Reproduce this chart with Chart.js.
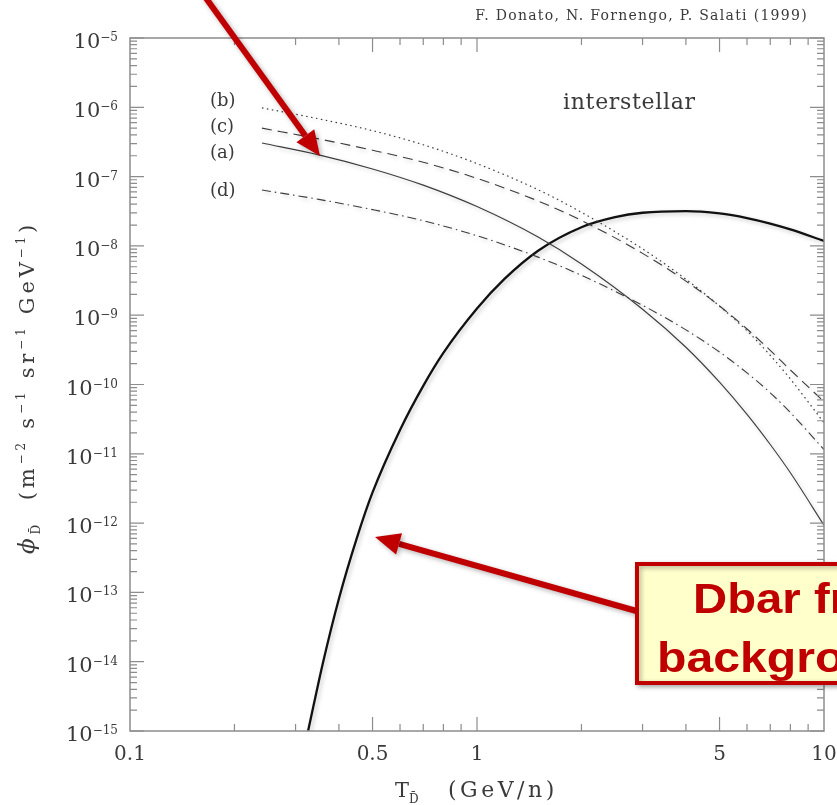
<!DOCTYPE html>
<html>
<head>
<meta charset="utf-8">
<script src="https://cdn.jsdelivr.net/npm/chart.js@4.4.0/dist/chart.umd.min.js"></script>
<style>
html, body { margin:0; padding:0; background:#fff; }
#wrap { width:837px; height:805px; }
</style>
</head>
<body>
<div id="wrap"><canvas id="myChart" width="837" height="805"></canvas></div>
<script>
// kinetic energy per nucleon (GeV/n) where the curves were read
var energy = [0.24, 0.35, 0.5, 0.7, 1, 1.5, 2, 3, 4, 5, 6, 7, 8, 10];
// interstellar Dbar flux, curves (a)..(d)
var fluxA = [3.05e-7, 2.06e-7, 1.29e-7, 7.53e-8, 3.69e-8, 1.34e-8, 5.48e-9, 1.22e-9, 3.45e-10, 1.08e-10, 3.70e-11, 1.36e-11, 5.32e-12, 9.3e-13];
var fluxB = [9.8e-7, 6.82e-7, 4.60e-7, 2.88e-7, 1.54e-7, 6.46e-8, 3.05e-8, 9.06e-9, 3.30e-9, 1.35e-9, 5.96e-10, 2.63e-10, 1.20e-10, 2.80e-11];
var fluxC = [5.0e-7, 3.50e-7, 2.40e-7, 1.61e-7, 9.42e-8, 4.45e-8, 2.33e-8, 7.80e-9, 3.10e-9, 1.36e-9, 6.32e-10, 3.11e-10, 1.62e-10, 5.66e-11];
var fluxD = [6.4e-8, 4.69e-8, 3.34e-8, 2.31e-8, 1.40e-8, 6.89e-9, 3.76e-9, 1.39e-9, 6.14e-10, 2.94e-10, 1.47e-10, 7.59e-11, 3.94e-11, 1.15e-11];
// secondary (background) Dbar
var energyBg = [0.326, 0.36, 0.4, 0.45, 0.5, 0.6, 0.7, 0.8, 1, 1.2, 1.5, 2, 2.5, 3, 4, 5, 6, 7, 8, 10];
var fluxBg = [1.0e-15, 9.75e-15, 8.11e-14, 5.97e-13, 2.77e-12, 2.21e-11, 9.57e-11, 2.86e-10, 1.25e-9, 3.34e-9, 8.53e-9, 1.86e-8, 2.60e-8, 3.01e-8, 3.18e-8, 2.94e-8, 2.52e-8, 2.10e-8, 1.73e-8, 1.18e-8];

var curveTags = ['(b)', '(c)', '(a)', '(d)'];
var xLabelTicks = [0.1, 0.5, 1, 5, 10];
var xMajorTicks = [0.5, 1, 5];
var xMinorTicks = [0.2, 0.3, 0.4, 0.6, 0.7, 0.8, 0.9, 2, 3, 4, 6, 7, 8, 9];
var yExponents = [-5, -6, -7, -8, -9, -10, -11, -12, -13, -14, -15];

var SERIF = '"DejaVu Serif", serif';
var TXT = '#3a3a3a';

function pts(xs, ys) {
  return xs.map(function(x, i){ return {x: x, y: ys[i]}; });
}

function rich(ctx, parts, x, y, align) {
  var total = 0;
  parts.forEach(function(p){
    ctx.font = (p.it ? 'italic ' : '') + p.s + 'px ' + SERIF;
    total += ctx.measureText(p.t).width;
  });
  var cx = align === 'right' ? x - total : (align === 'center' ? x - total / 2 : x);
  parts.forEach(function(p){
    ctx.font = (p.it ? 'italic ' : '') + p.s + 'px ' + SERIF;
    ctx.textAlign = 'left';
    ctx.fillText(p.t, cx, y + (p.dy || 0));
    cx += ctx.measureText(p.t).width;
  });
  return total;
}

function arrow(ctx, x0, y0, x1, y1) {
  var ang = Math.atan2(y1 - y0, x1 - x0), hl = 25, hw = 11;
  var bx = x1 - hl * Math.cos(ang), by = y1 - hl * Math.sin(ang);
  ctx.beginPath();
  ctx.moveTo(x0, y0);
  ctx.lineTo(bx, by);
  ctx.stroke();
  ctx.beginPath();
  ctx.moveTo(x1, y1);
  ctx.lineTo(bx + hw * Math.sin(ang), by - hw * Math.cos(ang));
  ctx.lineTo(bx - hw * Math.sin(ang), by + hw * Math.cos(ang));
  ctx.closePath();
  ctx.fill();
}

var shadowPlugin = {
  id: 'shadow',
  beforeDatasetsDraw: function(chart){
    var ctx = chart.ctx;
    ctx.save();
    ctx.shadowColor = 'rgba(0,0,0,0.22)';
    ctx.shadowBlur = 4;
    ctx.shadowOffsetX = 2;
    ctx.shadowOffsetY = 2;
  },
  afterDatasetsDraw: function(chart){
    chart.ctx.restore();
  }
};

var framePlugin = {
  id: 'frame',
  afterDraw: function(chart){
    var ctx = chart.ctx, a = chart.chartArea, xs = chart.scales.x, ys = chart.scales.y;
    ctx.save();
    ctx.strokeStyle = '#8c8c8c';
    ctx.lineWidth = 1.5;
    ctx.strokeRect(a.left, a.top, a.right - a.left, a.bottom - a.top);
    ctx.lineWidth = 1.2;
    ctx.beginPath();
    xMajorTicks.concat(xMinorTicks).forEach(function(v){
      var px = xs.getPixelForValue(v), len = xMajorTicks.indexOf(v) >= 0 ? 14 : 7;
      ctx.moveTo(px, a.bottom); ctx.lineTo(px, a.bottom - len);
      ctx.moveTo(px, a.top); ctx.lineTo(px, a.top + len);
    });
    yExponents.forEach(function(e){
      for (var m = 1; m <= 9; m++) {
        var v = m * Math.pow(10, e);
        if (v > 1.0001e-5) continue;
        var py = ys.getPixelForValue(v), len = m === 1 ? 14 : 7;
        ctx.moveTo(a.left, py); ctx.lineTo(a.left + len, py);
        ctx.moveTo(a.right, py); ctx.lineTo(a.right - len, py);
      }
    });
    ctx.stroke();

    ctx.fillStyle = TXT;
    ctx.textBaseline = 'alphabetic';
    // y tick labels
    yExponents.forEach(function(e){
      var py = ys.getPixelForValue(Math.pow(10, e));
      ctx.font = '12px ' + SERIF;
      var ew = ctx.measureText('\u2212' + (-e)).width;
      ctx.textAlign = 'left';
      ctx.fillText('\u2212' + (-e), 118 - ew, py + 3);
      ctx.font = '21px ' + SERIF;
      ctx.textAlign = 'right';
      ctx.fillText('10', 118 - ew, py + 10);
    });
    // x tick labels
    ctx.font = '20px ' + SERIF;
    ctx.textAlign = 'center';
    xLabelTicks.forEach(function(v){
      ctx.fillText(String(v), xs.getPixelForValue(v), 760);
    });

    // x title
    rich(ctx, [{t:'T', s:21}, {t:'D\u0304', s:12, dy:6}], 395, 797, 'left');
    ctx.letterSpacing = '3.5px';
    ctx.font = '22px ' + SERIF;
    ctx.textAlign = 'left';
    ctx.fillText('(GeV/n)', 448, 797);
    ctx.letterSpacing = '0px';

    // y title
    ctx.save();
    ctx.translate(34, 554);
    ctx.rotate(-Math.PI / 2);
    ctx.letterSpacing = '3.8px';
    rich(ctx, [
      {t:'\u03d5', s:23, it:true}, {t:'D\u0304', s:12, dy:6},
      {t:'  (m', s:21}, {t:'\u22122', s:12, dy:-9},
      {t:' s', s:21}, {t:'\u22121', s:12, dy:-9},
      {t:' sr', s:21}, {t:'\u22121', s:12, dy:-9},
      {t:' GeV', s:21}, {t:'\u22121', s:12, dy:-9},
      {t:')', s:21}
    ], 0, 0, 'left');
    ctx.letterSpacing = '0px';
    ctx.restore();

    // header and in-plot texts
    ctx.font = '14px ' + SERIF;
    ctx.letterSpacing = '1.3px';
    ctx.textAlign = 'right';
    ctx.fillText('F. Donato, N. Fornengo, P. Salati (1999)', 808, 20);
    ctx.textAlign = 'left';
    ctx.letterSpacing = '0.7px';
    ctx.font = '22px ' + SERIF;
    ctx.fillText('interstellar', 563, 109);
    ctx.letterSpacing = '0px';
    ctx.font = '18px ' + SERIF;
    var tagBase = [106, 132, 158, 196];
    curveTags.forEach(function(t, i){
      ctx.fillText(t, 210, tagBase[i]);
    });

    // slide annotations
    ctx.shadowColor = 'rgba(0,0,0,0.3)';
    ctx.shadowBlur = 5;
    ctx.shadowOffsetX = 2;
    ctx.shadowOffsetY = 2;
    ctx.strokeStyle = '#c00000';
    ctx.fillStyle = '#c00000';
    ctx.lineWidth = 6;
    arrow(ctx, 203, -6, 320, 156);
    arrow(ctx, 640, 612, 375, 537);
    ctx.fillStyle = '#ffffcc';
    ctx.fillRect(637, 564, 220, 119);
    ctx.lineWidth = 4;
    ctx.strokeRect(637, 564, 220, 119);
    ctx.shadowColor = 'rgba(0,0,0,0)';
    ctx.fillStyle = '#c00000';
    ctx.font = 'bold 43px "Liberation Sans", Arial, sans-serif';
    ctx.save();
    ctx.translate(693, 613);
    ctx.scale(1.1, 1);
    ctx.fillText('Dbar from', 0, 0);
    ctx.restore();
    ctx.save();
    ctx.translate(657, 672);
    ctx.scale(1.12, 1);
    ctx.fillText('background', 0, 0);
    ctx.restore();
    ctx.restore();
  }
};

function line(label, xs, ys, width, dash, color) {
  return {
    label: label,
    data: pts(xs, ys),
    borderColor: color,
    borderWidth: width,
    borderDash: dash,
    pointRadius: 0,
    fill: false,
    cubicInterpolationMode: 'monotone'
  };
}

var ctx = document.getElementById('myChart');
var myChart = new Chart(ctx, {
  type: 'line',
  data: {
    datasets: [
      line('(a)', energy, fluxA, 1.1, [], '#3c3c3c'),
      line('(b)', energy, fluxB, 1.2, [1.5, 3.5], '#3c3c3c'),
      line('(c)', energy, fluxC, 1.1, [10, 6], '#3c3c3c'),
      line('(d)', energy, fluxD, 1.1, [9, 4, 1.5, 4], '#3c3c3c'),
      line('background', energyBg, fluxBg, 2.3, [], '#111111')
    ]
  },
  options: {
    responsive: false,
    animation: false,
    layout: { padding: { left: 130, right: 13, top: 38, bottom: 74 } },
    plugins: { legend: { display: false }, tooltip: { enabled: false } },
    scales: {
      x: { type: 'logarithmic', min: 0.1, max: 10, display: false },
      y: { type: 'logarithmic', min: 1e-15, max: 1e-5, display: false }
    }
  },
  plugins: [shadowPlugin, framePlugin]
});
</script>
</body>
</html>
